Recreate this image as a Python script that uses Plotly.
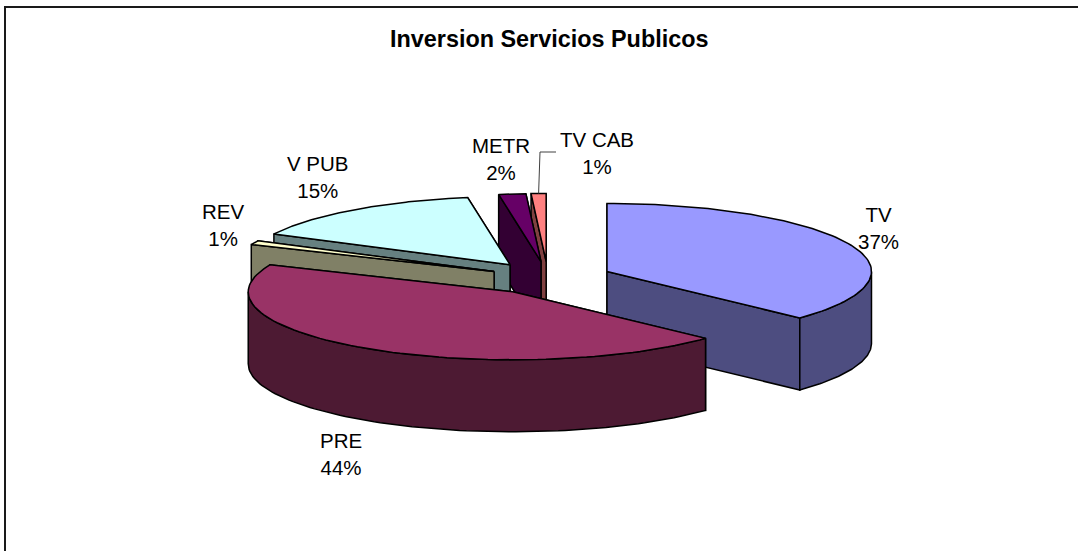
import numpy as np
import plotly.graph_objects as go

# ---- data -------------------------------------------------------------
categories = ["TV", "PRE", "REV", "V PUB", "METR", "TV CAB"]
shares = [37.0, 44.49, 0.95, 15.0, 1.65, 0.91]
explode = [0.243, 0.243, 0.225, 0.243, 0.243, 0.243]
top_colors = ["#9999FF", "#993366", "#FFFFCC", "#CCFFFF", "#660066", "#FF8080"]
side_colors = ["#4D4D80", "#4D1A33", "#808066", "#668080", "#330033", "#804040"]
chart_title = "Inversion Servicios Publicos"

# ---- projection of the tilted pie, in page pixels ----------------------
CX, CY = 548.0, 278.0
RX, RY = 264.5, 68.0
DEPTH = 72.0
LINE = dict(color="black", width=1.5)

W, H = 1078, 551
fig = go.Figure()


def arc(cx, cy, a0, a1, n=90):
    t = np.radians(np.linspace(a0, a1, n))
    return cx + RX * np.sin(t), cy - RY * np.cos(t)


def poly(x, y, color):
    x = list(x) + [x[0]]
    y = list(y) + [y[0]]
    fig.add_trace(go.Scatter(x=x, y=y, mode="lines", fill="toself", fillcolor=color,
                             line=LINE, hoverinfo="skip", showlegend=False))


edges = np.concatenate([[0], np.cumsum(shares)]) * 3.6
geometry = {}
for i, name in enumerate(categories):
    a0, a1 = edges[i], edges[i + 1]
    mid = np.radians((a0 + a1) / 2)
    geometry[name] = (CX + explode[i] * RX * np.sin(mid), CY - explode[i] * RY * np.cos(mid), a0, a1)


def draw_slice(i):
    name = categories[i]
    cx, cy, a0, a1 = geometry[name]
    ax, ay = arc(cx, cy, a0, a1)
    ends = sorted([(ay[0], ax[0]), (ay[-1], ax[-1])], key=lambda p: p[0])
    side = side_colors[i]
    for py, px in ends:
        poly([cx, px, px, cx], [cy, py, py + DEPTH, cy + DEPTH], side)
    lo, hi = max(a0, 90), min(a1, 270)
    if lo < hi:
        wx, wy = arc(cx, cy, lo, hi)
        poly(list(wx) + list(wx[::-1]), list(wy) + list((wy + DEPTH)[::-1]), side)
    poly([cx] + list(ax), [cy] + list(ay), top_colors[i])


# back to front
for i in [5, 4, 3, 2, 0, 1]:
    draw_slice(i)

# ---- labels -----------------------------------------------------------
label_xy = {
    "TV": (878, 228), "PRE": (341, 454), "REV": (223, 225),
    "V PUB": (318, 177), "METR": (501, 159), "TV CAB": (597, 153),
}
for name, share in zip(categories, shares):
    x, y = label_xy[name]
    fig.add_annotation(x=x, y=y, text=f"{name}<br>{round(share)}%", showarrow=False,
                       xanchor="center", yanchor="middle", align="center",
                       font=dict(family="Liberation Sans", size=20.5, color="#000000"))

# leader line of the smallest slice
cx, cy, a0, a1 = geometry["TV CAB"]
lx, ly = arc(cx, cy, a0, a1, 3)
fig.add_trace(go.Scatter(x=[556, 540, lx[1]], y=[152, 152, ly[1]], mode="lines",
                         line=dict(color="#404040", width=1), hoverinfo="skip", showlegend=False))

fig.add_annotation(x=549, y=39, text=f"<b>{chart_title}</b>", showarrow=False,
                   xanchor="center", yanchor="middle",
                   font=dict(family="Liberation Sans", size=23.4, color="#000000"))

fig.update_xaxes(range=[0, W], visible=False, fixedrange=True)
fig.update_yaxes(range=[H, 0], visible=False, fixedrange=True)
fig.update_layout(width=W, height=H, margin=dict(l=0, r=0, t=0, b=0), autosize=False,
                  paper_bgcolor="white", plot_bgcolor="white", showlegend=False,
                  shapes=[dict(type="rect", xref="x", yref="y", x0=5, y0=7, x1=1100, y1=600,
                               line=dict(color="#1a1a1a", width=2), layer="below")])
fig.write_html("out.html", config={"displayModeBar": False},
               post_script="document.body.style.margin='0';document.body.style.overflow='hidden';")
